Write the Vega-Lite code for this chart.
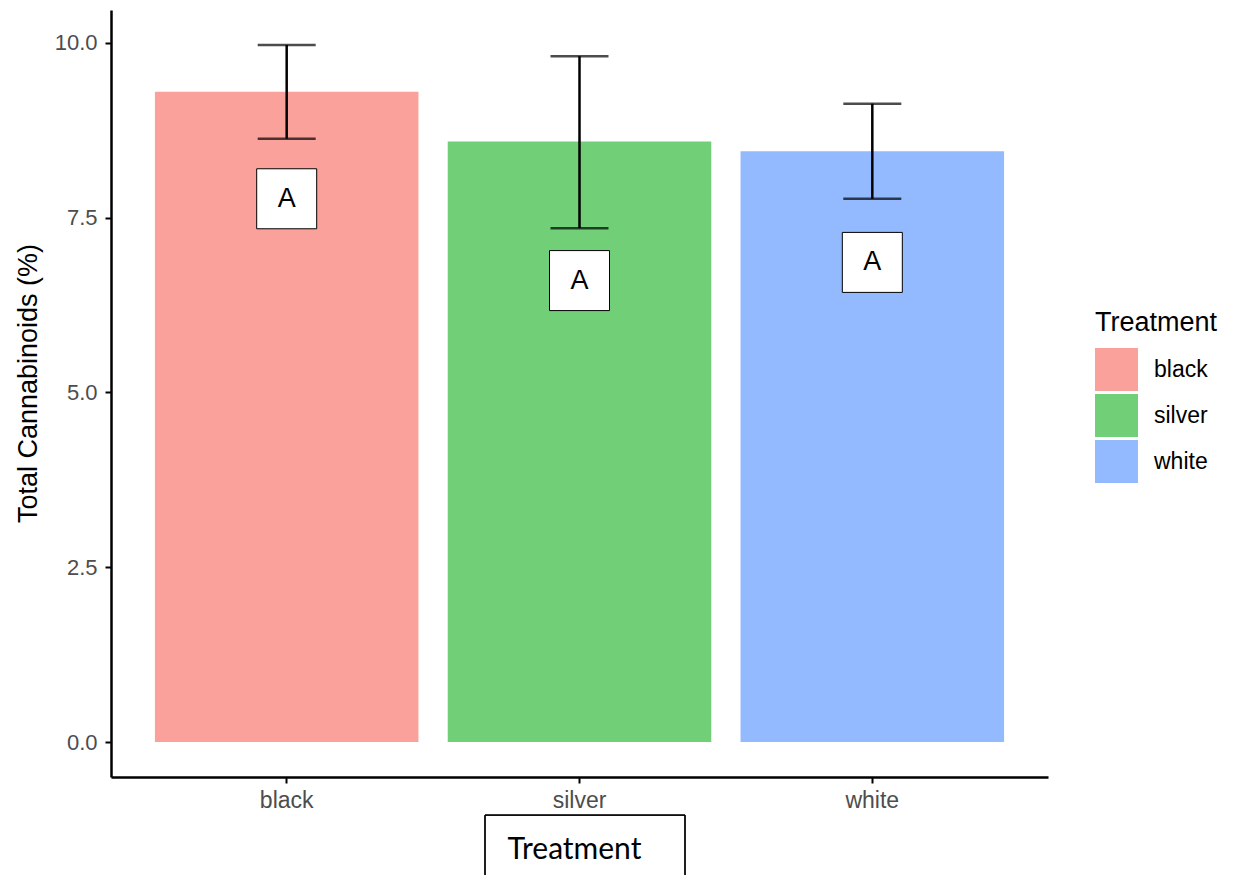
{
  "$schema": "https://vega.github.io/schema/vega-lite/v6.json",
  "width": 937,
  "height": 767,
  "autosize": "none",
  "padding": {"left": 111, "top": 10, "right": 186, "bottom": 98},
  "background": "white",
  "config": {
    "view": {"stroke": null},
    "font": "Liberation Sans"
  },
  "data": {
    "values": [
      {"Treatment": "black", "mean": 9.3, "lower": 8.63, "upper": 9.97, "label": "A", "label_y": 7.77},
      {"Treatment": "silver", "mean": 8.59, "lower": 7.35, "upper": 9.81, "label": "A", "label_y": 6.6},
      {"Treatment": "white", "mean": 8.45, "lower": 7.77, "upper": 9.13, "label": "A", "label_y": 6.86}
    ]
  },
  "encoding": {
    "x": {
      "field": "Treatment",
      "type": "nominal",
      "scale": {"paddingInner": 0.1, "paddingOuter": 0.15},
      "axis": {
        "title": "Treatment",
        "titleFont": "Lato",
        "titleFontSize": 30,
        "titleFontWeight": "normal",
        "titleColor": "black",
        "titlePadding": 22,
        "titleX": 463,
        "labelAngle": 0,
        "labelFontSize": 23,
        "labelColor": "#4d4d4d",
        "labelPadding": 6,
        "tickSize": 6,
        "tickColor": "black",
        "tickWidth": 2,
        "domainColor": "black",
        "domainWidth": 2.5
      }
    }
  },
  "layer": [
    {
      "mark": {"type": "bar"},
      "encoding": {
        "y": {
          "field": "mean",
          "type": "quantitative",
          "scale": {"domain": [-0.5, 10.47], "nice": false, "zero": false},
          "axis": {
            "title": "Total Cannabinoids (%)",
            "values": [0, 2.5, 5, 7.5, 10],
            "format": ".1f",
            "grid": false,
            "titleFontSize": 27,
            "titleFontWeight": "normal",
            "titleColor": "black",
            "titlePadding": 12,
            "titleY": 373,
            "labelFontSize": 22,
            "labelColor": "#4d4d4d",
            "labelPadding": 8,
            "tickSize": 6,
            "tickColor": "black",
            "tickWidth": 2,
            "domainColor": "black",
            "domainWidth": 2.5
          }
        },
        "y2": {"datum": 0},
        "color": {
          "field": "Treatment",
          "type": "nominal",
          "scale": {"domain": ["black", "silver", "white"], "range": ["#F9A19A", "#71CF78", "#93BAFF"]},
          "legend": {
            "orient": "none",
            "legendX": 984,
            "legendY": 300,
            "padding": 0,
            "title": "Treatment",
            "titleFontSize": 27,
            "titleFontWeight": "normal",
            "titleColor": "black",
            "titlePadding": 11,
            "labelFontSize": 23,
            "labelColor": "black",
            "labelOffset": 16,
            "symbolType": "square",
            "symbolSize": 1849,
            "symbolStrokeWidth": 0,
            "symbolOpacity": 1,
            "rowPadding": 3
          }
        }
      }
    },
    {
      "mark": {"type": "rule", "color": "black", "strokeWidth": 2.5},
      "encoding": {
        "y": {"field": "lower", "type": "quantitative"},
        "y2": {"field": "upper"}
      }
    },
    {
      "mark": {"type": "tick", "color": "black", "size": 58, "thickness": 2.5},
      "encoding": {"y": {"field": "lower", "type": "quantitative"}}
    },
    {
      "mark": {"type": "tick", "color": "black", "size": 58, "thickness": 2.5},
      "encoding": {"y": {"field": "upper", "type": "quantitative"}}
    },
    {
      "mark": {"type": "point", "shape": "square", "size": 3600, "filled": true, "fill": "white", "stroke": "black", "strokeWidth": 1, "opacity": 1},
      "encoding": {"y": {"field": "label_y", "type": "quantitative"}}
    },
    {
      "mark": {"type": "text", "fontSize": 27, "color": "black", "baseline": "middle", "align": "center"},
      "encoding": {
        "y": {"field": "label_y", "type": "quantitative"},
        "text": {"field": "label"}
      }
    },
    {
      "mark": {"type": "point", "shape": "M-0.945,-0.5L1.055,-0.5L1.055,0.5L-0.945,0.5Z", "size": 40000, "filled": false, "stroke": "black", "strokeWidth": 1, "opacity": 1, "clip": false},
      "encoding": {
        "x": {"datum": "silver"},
        "y": {"datum": -1.76}
      }
    }
  ]
}
